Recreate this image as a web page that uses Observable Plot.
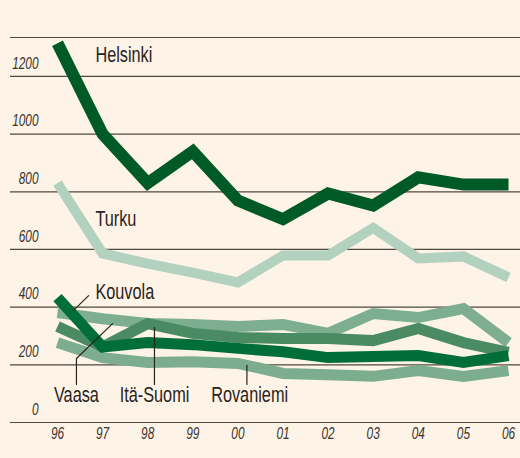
<!DOCTYPE html>
<html>
<head>
<meta charset="utf-8">
<script src="https://cdn.jsdelivr.net/npm/d3@7"></script>
<script src="https://cdn.jsdelivr.net/npm/@observablehq/plot@0.6"></script>
<style>
  html, body { margin: 0; padding: 0; background: #fdf3e6; }
  #chart svg { display: block; }
</style>
</head>
<body>
<div id="chart"></div>
<script>
// ---- data ----
const years = [1996, 1997, 1998, 1999, 2000, 2001, 2002, 2003, 2004, 2005, 2006];
const xTickLabels = ["96", "97", "98", "99", "00", "01", "02", "03", "04", "05", "06"];
const yTicks = [0, 200, 400, 600, 800, 1000, 1200];
const yMax = 1335;

const helsinki  = [1315, 1000, 830, 940, 770, 705, 794, 752, 850, 825, 825];
const turku     = [830, 586, 551, 520, 486, 579, 579, 675, 569, 576, 503];
const kouvola   = [433, 262, 277, 270, 257, 245, 225, 229, 232, 208, 232];
const vaasa     = [381, 360, 343, 340, 333, 340, 309, 378, 364, 395, 277];
const itaSuomi  = [333, 262, 343, 309, 295, 291, 291, 284, 326, 277, 243];
const rovaniemi = [277, 225, 208, 211, 205, 170, 166, 160, 180, 160, 180];

// series drawing order (back to front)
const seriesNames = ["Turku", "Rovaniemi", "Vaasa", "Itä-Suomi", "Kouvola", "Helsinki"];
const seriesValues = [turku, rovaniemi, vaasa, itaSuomi, kouvola, helsinki];
const seriesColors = ["#b3d1bf", "#7cad8e", "#7dae90", "#4a8b63", "#006e38", "#005a26"];
const seriesWidths = [10, 11, 11, 11, 11, 12];

// labels (in data units)
const labelNames = ["Helsinki", "Turku", "Kouvola", "Vaasa", "Itä-Suomi", "Rovaniemi"];
const labelYear  = [1996.84, 1996.84, 1996.84, 1996.42, 1998.15, 2000.26];
const labelValue = [1273, 707, 451, 94, 94, 94];
const labelAnchor = ["start", "start", "start", "middle", "middle", "middle"];

// leader lines (in data units)
const leaders = [
  [[1996.35, 388], [1996.69, 440]],
  [[1996.42, 132], [1996.42, 222], [1997.22, 343]],
  [[1998.15, 132], [1998.15, 329]],
  [[2000.2, 132], [2000.2, 198]]
];

// ---- build ----
const lineMarks = seriesNames.map((name, s) =>
  Plot.line(years.map((y, i) => ({year: y, value: seriesValues[s][i]})), {
    x: "year", y: "value",
    stroke: seriesColors[s], strokeWidth: seriesWidths[s],
    strokeLinecap: "butt", strokeLinejoin: "miter", strokeMiterlimit: 6
  })
);

const leaderRows = leaders.flatMap((pts, k) => pts.map(([x, y]) => ({k, x, y})));
const labelRows = labelNames.map((n, i) => ({n, x: labelYear[i], y: labelValue[i], a: labelAnchor[i]}));

const font = "'Liberation Sans', Arial, sans-serif";
const condense = 0.74;

const chart = Plot.plot({
  width: 520,
  height: 458,
  marginTop: 37,
  marginBottom: 36,
  marginLeft: 10,
  marginRight: 0,
  style: {background: "#fdf3e6", fontFamily: font},
  x: {domain: [1996, 2006], range: [57, 508], axis: null},
  y: {domain: [0, yMax], axis: null},
  marks: [
    Plot.ruleY([...yTicks, yMax], {stroke: "#4f4741", strokeWidth: 1.2}),
    Plot.text(yTicks, {
      y: d => d, text: d => String(d), frameAnchor: "left", dx: 28, dy: -13,
      textAnchor: "end", fontStyle: "italic", fontSize: 16, fill: "#3a322d"
    }),
    Plot.text(years, {
      x: d => d, text: (d, i) => xTickLabels[i], frameAnchor: "bottom", dy: 16,
      fontStyle: "italic", fontSize: 16, fill: "#3a322d"
    }),
    ...lineMarks,
    Plot.line(leaderRows, {x: "x", y: "y", z: "k", stroke: "#2a2320", strokeWidth: 1.2}),
    ...["start", "middle"].map(a =>
      Plot.text(labelRows.filter(d => d.a === a), {
        x: "x", y: "y", text: "n", textAnchor: a, fontSize: 22, fill: "#2a2320"
      })
    )
  ]
});
document.getElementById("chart").appendChild(chart);

// condensed look: squeeze glyphs horizontally
chart.querySelectorAll("text").forEach(t => {
  const w = t.getComputedTextLength();
  if (w > 0) {
    t.setAttribute("textLength", (w * condense).toFixed(2));
    t.setAttribute("lengthAdjust", "spacingAndGlyphs");
  }
});
</script>
</body>
</html>
